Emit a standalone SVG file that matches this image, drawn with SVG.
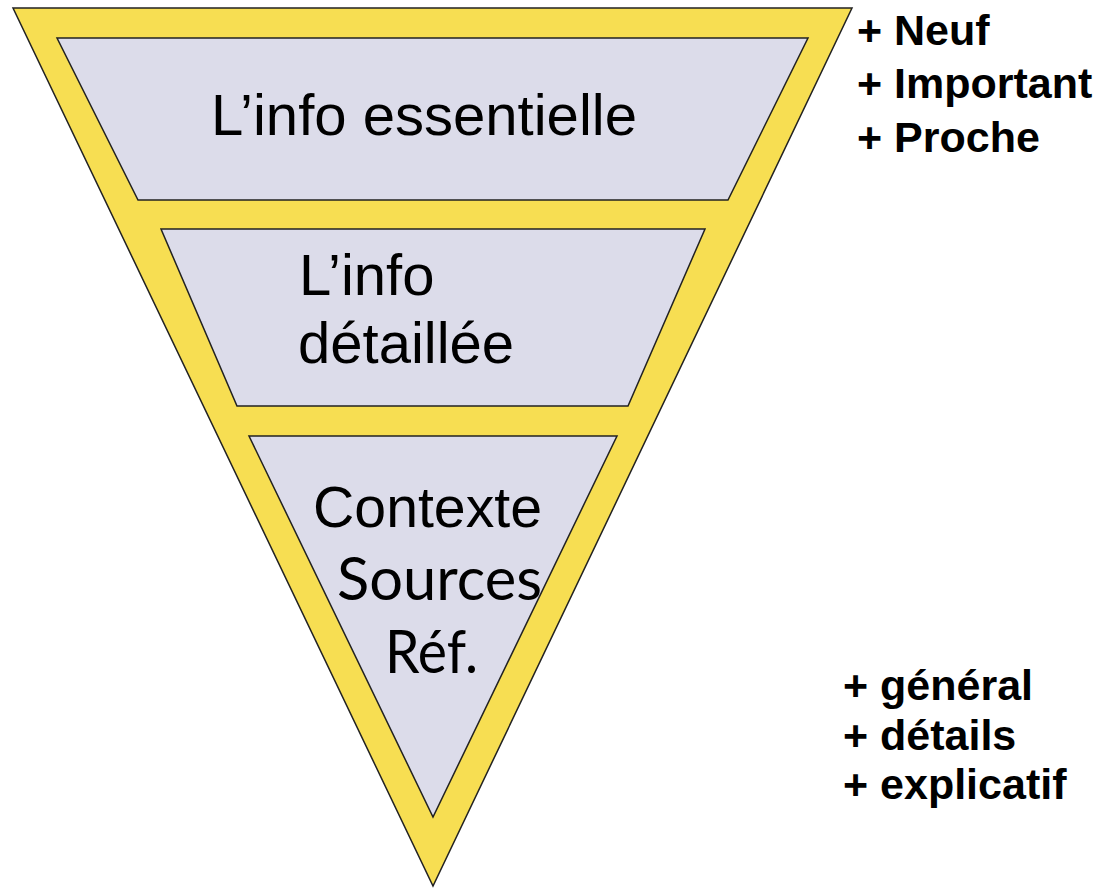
<svg xmlns="http://www.w3.org/2000/svg" width="1107" height="890" viewBox="0 0 1107 890">
<style>
.outer{fill:#F7DE52;stroke:#222;stroke-width:1.5;stroke-linejoin:miter}
.layer{fill:#DCDCEA;stroke:#222;stroke-width:1.5}
.lbl{font-family:"Liberation Sans",Arial,sans-serif;font-size:58px;fill:#000}
.cal{font-family:Lato,"Open Sans",sans-serif;font-size:60px;fill:#000}
.side{font-family:"Liberation Sans",Arial,sans-serif;font-weight:bold;font-size:43px;fill:#000}
</style>
<rect width="1107" height="890" fill="#fff"/>
<g id="pyramid">
<polygon class="outer" points="13,8 852,8 433,886"/>
</g>
<g id="essentielle">
<polygon class="layer" points="57,38 808,38 728,200 138,200"/>
<text class="lbl" x="211" y="135" textLength="426" lengthAdjust="spacingAndGlyphs">L’info essentielle</text>
</g>
<g id="detaillee">
<polygon class="layer" points="161,229 705,229 628,406 237,406"/>
<text class="lbl" x="299" y="295">L’info</text>
<text class="lbl" x="298" y="363">détaillée</text>
</g>
<g id="contexte">
<polygon class="layer" points="249,436 617,436 433,817"/>
<text class="lbl" x="313" y="527" textLength="229" lengthAdjust="spacingAndGlyphs">Contexte</text>
<text class="cal" x="337" y="600" textLength="205" lengthAdjust="spacingAndGlyphs">Sources</text>
<text class="cal" x="385" y="673" textLength="93" lengthAdjust="spacingAndGlyphs">Réf.</text>
</g>
<g id="top-list">
<text class="side" x="857" y="45">+ Neuf</text>
<text class="side" x="857" y="98">+ Important</text>
<text class="side" x="857" y="152">+ Proche</text>
</g>
<g id="bottom-list">
<text class="side" x="843" y="700">+ général</text>
<text class="side" x="843" y="750">+ détails</text>
<text class="side" x="843" y="799">+ explicatif</text>
</g>
<g id="connectors"/>
</svg>
